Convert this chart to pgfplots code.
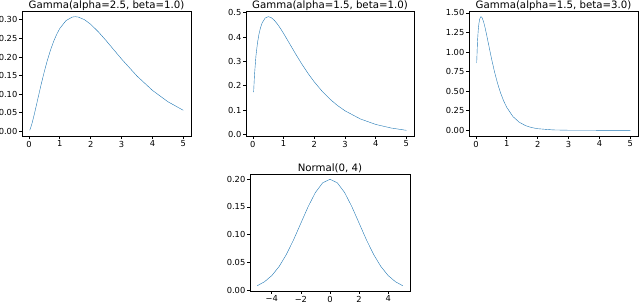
\documentclass[border=0pt]{standalone}
\usepackage{pgfplots}
\pgfplotsset{compat=1.18}
\usepackage{fontspec}
\setmainfont{DejaVu Sans}
\definecolor{mplblue}{HTML}{1F77B4}
\pgfplotsset{
  mpl/.style={
    scale only axis,
    anchor=south west,
    axis line style={black, line width=0.66pt},
    tick align=outside,
    xtick pos=bottom, ytick pos=left,
    major tick length=2.9pt,
    every tick/.style={black, line width=0.66pt},
    tick label style={font=\fontsize{8.3}{10}\selectfont, text=black},
    xticklabel style={inner sep=0pt, yshift=-1.8pt},
    yticklabel style={inner sep=0pt, xshift=-1.6pt},
    /pgf/number format/assume math mode=true,
    every axis title shift=0pt,
    title style={font=\fontsize{10.2}{12}\selectfont, at={(0.5,1)}, anchor=base, yshift=2.6pt, inner sep=0pt},
    cycle list={{mplblue, line width=1.4pt, no markers, smooth}},
  },
  yfix/.style={yticklabel style={/pgf/number format/.cd, fixed, fixed zerofill, precision=#1}},
}
\begin{document}
\begin{tikzpicture}
\path[use as bounding box] (0,0) rectangle (640pt,303pt);
% Gamma(2.5,1)
\begin{axis}[mpl, at={(22pt,167pt)}, width=169pt, height=125pt,
  xmin=-0.224, xmax=5.249, ymin=-0.0124, ymax=0.3237,
  xtick={0,1,2,3,4,5}, ytick={0,0.05,0.10,0.15,0.20,0.25,0.30}, yfix=2,
  title={Gamma(alpha=2.5, beta=1.0)}]
\addplot coordinates {(0.025,0.0029)(0.05,0.0080)(0.1,0.0215)(0.15,0.0376)(0.2,0.0551)(0.25,0.0732)(0.3,0.0916)(0.4,0.1276)(0.5,0.1613)(0.6,0.1919)(0.7,0.2188)(0.8,0.2419)(0.9,0.2611)(1.0,0.2767)(1.2,0.2978)(1.4,0.3073)(1.5,0.3084)(1.6,0.3074)(1.8,0.3003)(2.0,0.2880)(2.25,0.2676)(2.5,0.2441)(2.75,0.2193)(3.0,0.1946)(3.5,0.1488)(4.0,0.1103)(4.5,0.0798)(5.0,0.0567)};
\end{axis}
% Gamma(1.5,1)
\begin{axis}[mpl, at={(246pt,167pt)}, width=168pt, height=125pt,
  xmin=-0.224, xmax=5.249, ymin=-0.0063, ymax=0.5072,
  xtick={0,1,2,3,4,5}, ytick={0,0.1,0.2,0.3,0.4,0.5}, yfix=1,
  title={Gamma(alpha=1.5, beta=1.0)}]
\addplot coordinates {(0.025,0.1740)(0.05,0.2400)(0.1,0.3229)(0.15,0.3761)(0.2,0.4132)(0.25,0.4394)(0.3,0.4579)(0.4,0.4784)(0.5,0.4839)(0.6,0.4797)(0.7,0.4688)(0.8,0.4535)(0.9,0.4352)(1.0,0.4151)(1.2,0.3723)(1.4,0.3292)(1.6,0.2882)(1.8,0.2502)(2.0,0.2160)(2.25,0.1784)(2.5,0.1464)(2.75,0.1196)(3.0,0.0973)(3.5,0.0638)(4.0,0.0413)(4.5,0.0266)(5.0,0.0170)};
\end{axis}
% Gamma(1.5,3)
\begin{axis}[mpl, at={(469pt,167pt)}, width=169pt, height=125pt,
  xmin=-0.224, xmax=5.249, ymin=-0.0726, ymax=1.5244,
  xtick={0,1,2,3,4,5}, ytick={0,0.25,0.5,0.75,1.0,1.25,1.5}, yfix=2,
  title={Gamma(alpha=1.5, beta=3.0)}]
\addplot coordinates {(0.025,0.8601)(0.05,1.1284)(0.075,1.2822)(0.1,1.3736)(0.125,1.4247)(0.15,1.4479)(0.1667,1.4518)(0.2,1.4390)(0.25,1.3848)(0.3,1.3057)(0.35,1.2139)(0.4,1.1169)(0.5,0.9251)(0.6,0.7507)(0.7,0.6007)(0.8,0.4758)(0.9,0.3738)(1.0,0.2919)(1.2,0.1755)(1.4,0.1041)(1.6,0.0610)(1.8,0.0356)(2.0,0.0206)(2.5,0.0051)(3.0,0.0012)(4.0,0.0001)(5.0,0.0000)};
\end{axis}
% Normal(0,4)
\begin{axis}[mpl, at={(250pt,12pt)}, width=160pt, height=117pt,
  xmin=-5.5, xmax=5.5, ymin=-0.0007, ymax=0.2090,
  xtick={-4,-2,0,2,4}, xticklabels={−4,−2,0,2,4},
  ytick={0,0.05,0.10,0.15,0.20}, yfix=2,
  title={Normal(0, 4)}]
\addplot coordinates {(-5,0.0088)(-4.5,0.0159)(-4,0.0270)(-3.5,0.0431)(-3,0.0648)(-2.5,0.0913)(-2,0.1210)(-1.5,0.1506)(-1,0.1760)(-0.5,0.1933)(0,0.1995)(0.5,0.1933)(1,0.1760)(1.5,0.1506)(2,0.1210)(2.5,0.0913)(3,0.0648)(3.5,0.0431)(4,0.0270)(4.5,0.0159)(5,0.0088)};
\end{axis}
\end{tikzpicture}
\end{document}
